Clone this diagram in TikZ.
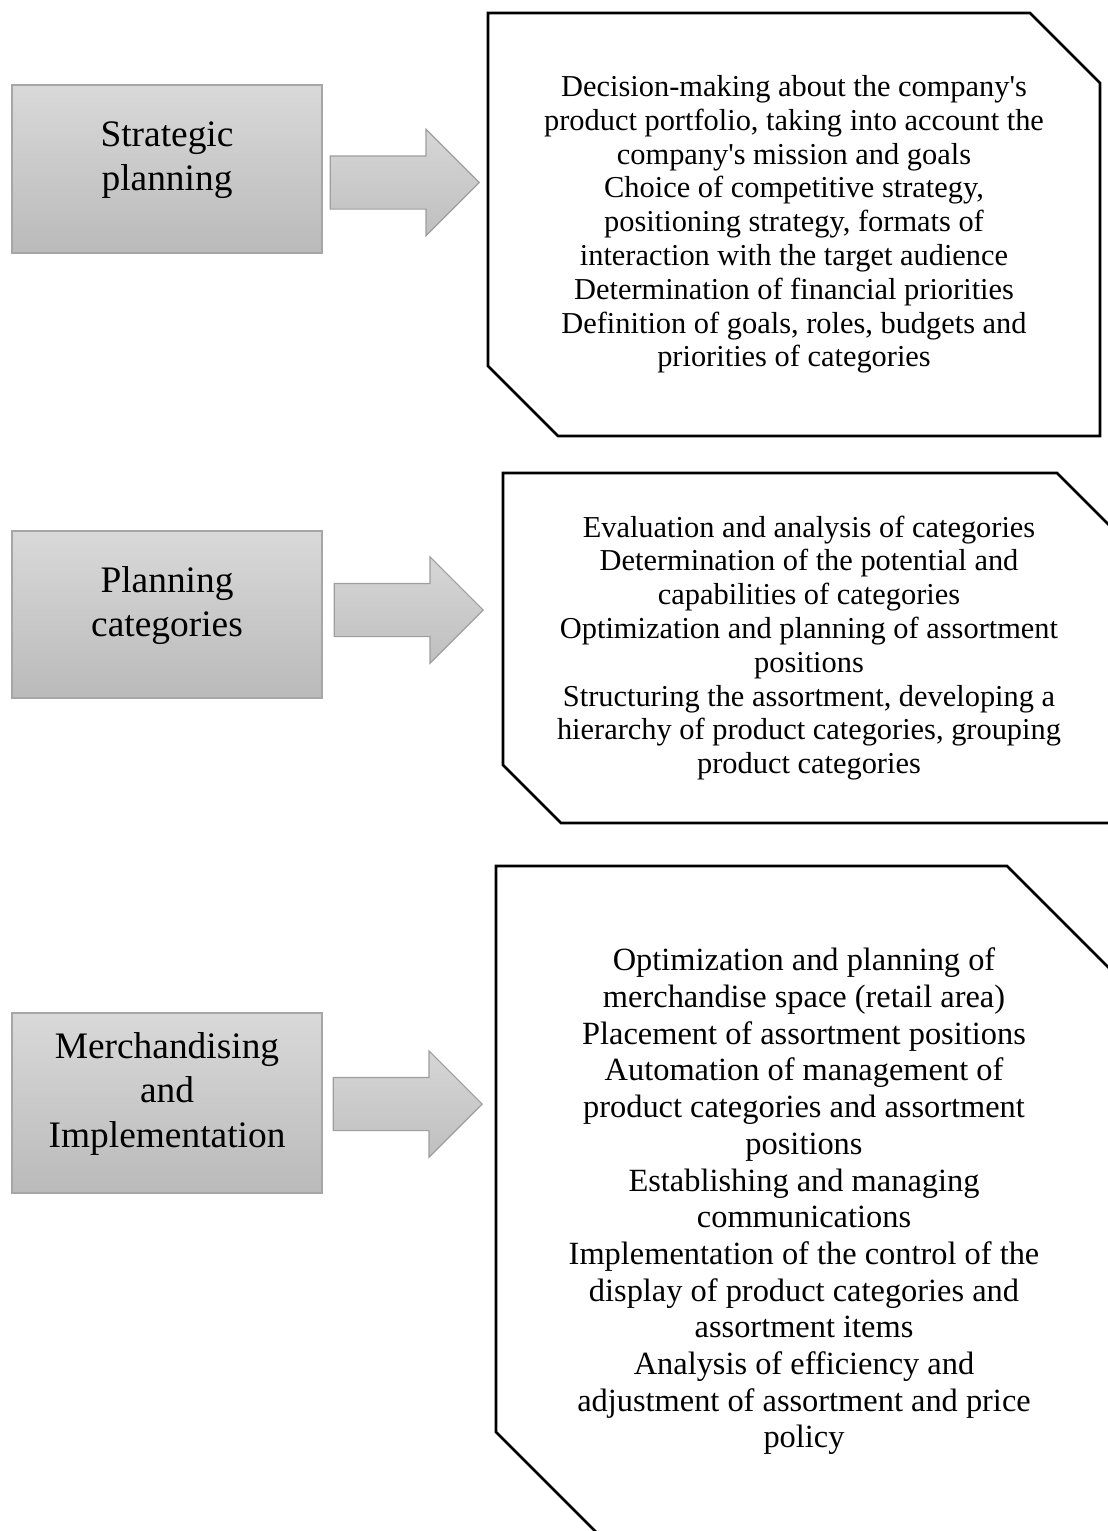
\documentclass[tikz,border=0pt]{standalone}
\usepackage{fontspec}
\setmainfont{Liberation Serif}
\usetikzlibrary{shapes.arrows}

\newcommand{\boxstrut}{\rule[-13pt]{0pt}{13pt}}

\tikzset{
  stage/.style={rectangle, draw=black!35, line width=1pt, top color=black!15, bottom color=black!27,
    minimum width=155pt, inner sep=0pt, align=center, font=\fontsize{18.7}{22.3}\selectfont},
  pointer/.style={single arrow, draw=black!38, line width=0.6pt, top color=black!16, bottom color=black!25,
    inner xsep=0pt, inner ysep=13pt, single arrow head extend=13.25pt, minimum height=74.5pt, anchor=tip},
  frame/.style={draw, line width=1.4pt, line join=miter},
  tasks/.style={inner sep=0pt, align=center, font=\fontsize{15.2}{16.9}\selectfont}
}

\begin{document}
\begin{tikzpicture}[x=0.5pt, y=-0.5pt]
    \useasboundingbox (0,0) rectangle (1108,1531);
    \clip (0,0) rectangle (1108,1531);

    % left column
    \node[stage, minimum height=84pt]   (s_1) at (167,169)   {Strategic\\planning\boxstrut};
    \node[stage, minimum height=83.5pt] (s_2) at (167,614.5) {Planning\\categories\boxstrut};
    \node[stage, minimum height=90pt]   (s_3) at (167,1103)  {Merchandising\\and\\Implementation\boxstrut};

    % block arrows
    \node[pointer] (a_1) at (480,182.5) {};
    \node[pointer] (a_2) at (484,610)   {};
    \node[pointer] (a_3) at (483,1104)  {};

    % snipped frames
    \draw[frame] (488,13) -- (1030,13) -- (1100,83) -- (1100,436) -- (558,436) -- (488,366) -- cycle;
    \draw[frame] (503,473) -- (1057,473) -- (1115,531) -- (1115,823) -- (561,823) -- (503,765) -- cycle;
    \draw[frame] (496,866) -- (1007,866) -- (1112,971) -- (1112,1537) -- (601,1537) -- (496,1432) -- cycle;

    % right column
    \node[tasks] (t_1) at (794,224.5)
        {Decision-making about the company\textquotesingle s\\
         product portfolio, taking into account the\\
         company\textquotesingle s mission and goals\\
         Choice of competitive strategy,\\
         positioning strategy, formats of\\
         interaction with the target audience\\
         Determination of financial priorities\\
         Definition of goals, roles, budgets and\\
         priorities of categories};
    \node[tasks] (t_2) at (809,648)
        {Evaluation and analysis of categories\\
         Determination of the potential and\\
         capabilities of categories\\
         Optimization and planning of assortment\\
         positions\\
         Structuring the assortment, developing a\\
         hierarchy of product categories, grouping\\
         product categories};
    \node[tasks, font=\fontsize{16.2}{18.35}\selectfont] (t_3) at (804,1201.5)
        {Optimization and planning of\\
         merchandise space (retail area)\\
         Placement of assortment positions\\
         Automation of management of\\
         product categories and assortment\\
         positions\\
         Establishing and managing\\
         communications\\
         Implementation of the control of the\\
         display of product categories and\\
         assortment items\\
         Analysis of efficiency and\\
         adjustment of assortment and price\\
         policy};
\end{tikzpicture}
\end{document}
